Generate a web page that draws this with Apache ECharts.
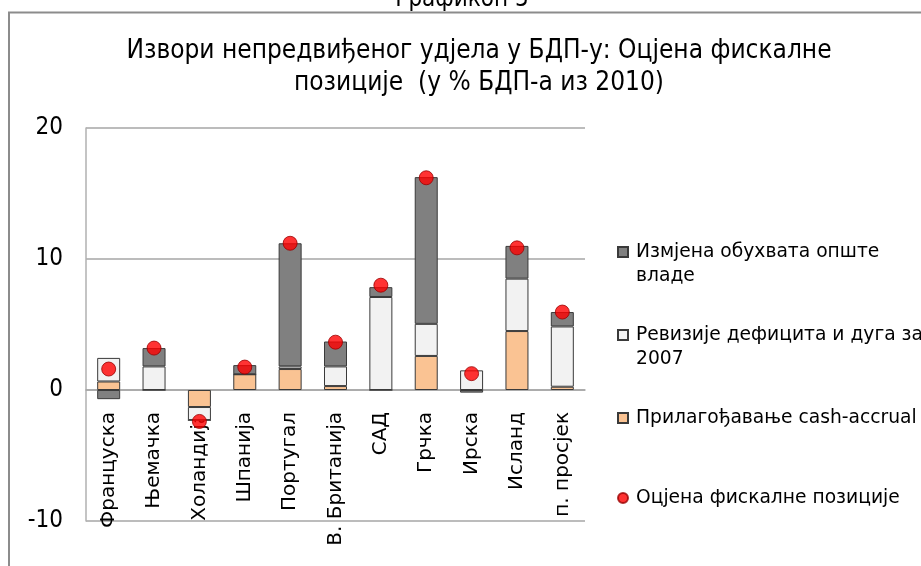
<!DOCTYPE html>
<html>
<head>
<meta charset="utf-8">
<script src="https://cdn.jsdelivr.net/npm/echarts@6/dist/echarts.min.js"></script>
<style>
  html, body { margin: 0; padding: 0; background: #fff; }
  #chart { width: 921px; height: 566px; }
</style>
</head>
<body>
<div id="chart"></div>
<script>
// категорије (земље)
var categories = ['Француска', 'Њемачка', 'Холандија', 'Шпанија', 'Португал', 'В. Британија', 'САД', 'Грчка', 'Ирска', 'Исланд', 'п. просјек'];
// Прилагођавање cash-accrual
var accrualData = [0.65, 0, -1.3, 1.2, 1.6, 0.3, 0, 2.6, 0, 4.5, 0.25];
// Ревизије дефицита и дуга за 2007
var revisionData = [1.8, 1.8, -1.0, 0, 0.2, 1.5, 7.1, 2.45, 1.5, 4.0, 4.6];
// Измјена обухвата опште владе
var coverageData = [-0.7, 1.4, 0, 0.7, 9.4, 1.9, 0.75, 11.2, -0.2, 2.5, 1.1];
// Оцјена фискалне позиције
var estimateData = [1.6, 3.2, -2.4, 1.75, 11.2, 3.65, 8.0, 16.2, 1.25, 10.85, 5.95];

var narrowFont = '"Liberation Sans Narrow", "DejaVu Sans Condensed", "Liberation Sans", sans-serif';
var labelFont = '"DejaVu Sans", sans-serif';

var names = {
  coverage: 'Измјена обухвата опште владе',
  revision: 'Ревизије дефицита и дуга за 2007',
  accrual: 'Прилагођавање cash-accrual',
  estimate: 'Оцјена фискалне позиције'
};
// текст легенде (прво празан ред да икона стоји уз први ред)
var legendText = {};
legendText[names.coverage] = ' \nИзмјена обухвата опште\nвладе';
legendText[names.revision] = ' \nРевизије дефицита и дуга за\n2007';
legendText[names.accrual] = 'Прилагођавање cash-accrual';
legendText[names.estimate] = 'Оцјена фискалне позиције';

function makeLegend(name, top, icon) {
  return {
    data: [name],
    left: 617,
    top: top,
    padding: 0,
    orient: 'vertical',
    icon: icon,
    itemWidth: 10,
    itemHeight: 10,
    itemGap: 0,
    selectedMode: false,
    formatter: function (n) { return legendText[n]; },
    textStyle: { fontFamily: labelFont, fontSize: 18.7, color: '#000', lineHeight: 24, padding: [0, 0, 0, 3] }
  };
}

var barBorder = { borderColor: '#3a3a3a', borderWidth: 1 };

var chart = echarts.init(document.getElementById('chart'));
chart.setOption({
  animation: false,
  graphic: [
    {
      type: 'rect',
      shape: { x: 9, y: 12.5, width: 1000, height: 1000 },
      style: { fill: 'none', stroke: '#8c8c8c', lineWidth: 2 }
    },
    {
      type: 'text',
      x: 462, y: 12,
      style: { text: 'Графикон 5', fontFamily: narrowFont, fontSize: 24, fill: '#000', align: 'center', verticalAlign: 'bottom' }
    }
  ],
  title: {
    text: 'Извори непредвиђеног удјела у БДП-у: Оцјена фискалне\nпозиције  (у % БДП-а из 2010)',
    left: 474,
    top: 30,
    textAlign: 'center',
    textStyle: { fontFamily: narrowFont, fontSize: 26, fontWeight: 'normal', color: '#000', lineHeight: 32 }
  },
  legend: [
    makeLegend(names.coverage, 216, 'rect'),
    makeLegend(names.revision, 299, 'rect'),
    makeLegend(names.accrual, 406, 'rect'),
    makeLegend(names.estimate, 486, 'circle')
  ],
  grid: { left: 86, top: 128, width: 499, height: 393, containLabel: false, outerBoundsMode: 'none' },
  xAxis: {
    type: 'category',
    data: categories,
    position: 'bottom',
    offset: -131,
    axisLine: { onZero: false, lineStyle: { color: '#a6a6a6', width: 1.5 } },
    axisTick: { show: false },
    axisLabel: { rotate: 90, interval: 0, margin: 22, fontFamily: labelFont, fontSize: 20, color: '#000' }
  },
  yAxis: {
    type: 'value',
    min: -10,
    max: 20,
    interval: 10,
    axisLine: { show: true, lineStyle: { color: '#b0b0b0', width: 1.5 } },
    axisTick: { show: false },
    splitLine: { lineStyle: { color: '#a6a6a6', width: 1.5 } },
    axisLabel: { margin: 23, fontFamily: narrowFont, fontSize: 24, color: '#000' }
  },
  series: [
    {
      name: names.accrual, type: 'bar', stack: 'total', barWidth: 23,
      itemStyle: Object.assign({ color: '#fac393' }, barBorder),
      data: accrualData
    },
    {
      name: names.revision, type: 'bar', stack: 'total', barWidth: 23,
      itemStyle: Object.assign({ color: '#f2f2f2' }, barBorder),
      data: revisionData
    },
    {
      name: names.coverage, type: 'bar', stack: 'total', barWidth: 23,
      itemStyle: Object.assign({ color: '#808080' }, barBorder),
      data: coverageData
    },
    {
      name: names.estimate, type: 'scatter', symbol: 'circle', symbolSize: 14,
      itemStyle: { color: '#ff0000', borderColor: '#9a0000', borderWidth: 1 },
      z: 5,
      data: estimateData
    }
  ]
});
</script>
</body>
</html>
